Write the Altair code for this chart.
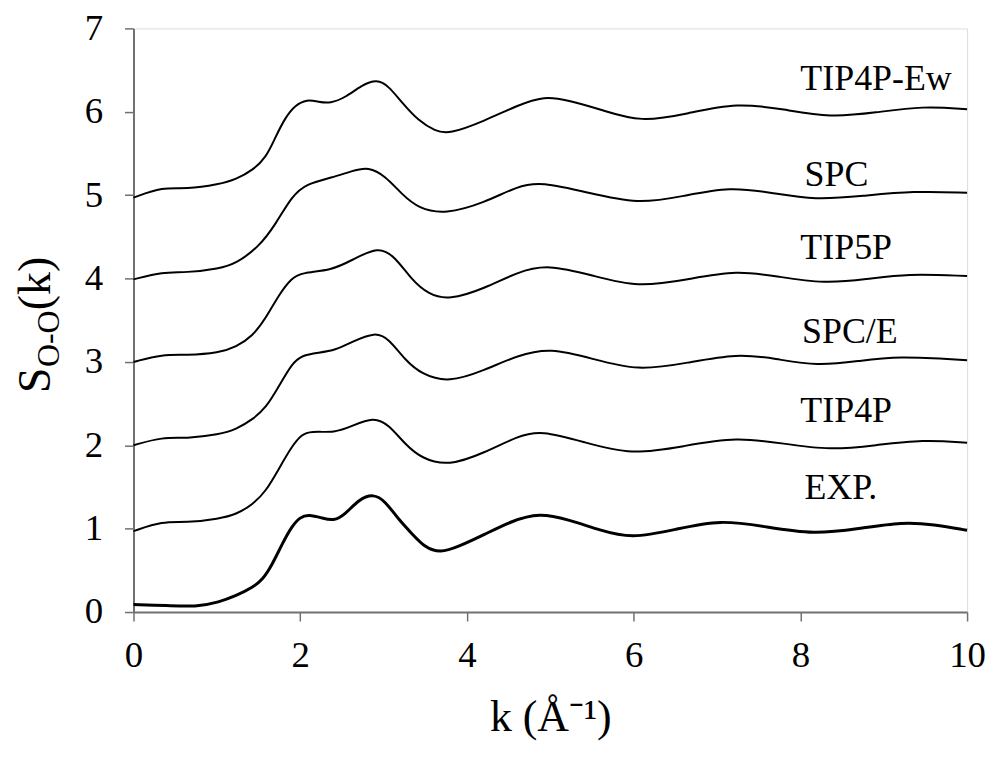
import altair as alt
import pandas as pd

# ---- data ----
exp_k = [0, 0.4, 0.75, 1.03, 1.23, 1.43, 1.55, 1.66, 1.78, 1.90, 2.0, 2.10, 2.26, 2.40, 2.54, 2.70, 2.88, 3.02, 3.18, 3.34, 3.50, 3.68, 3.89, 4.21, 4.53, 4.87, 5.21, 5.6, 5.97, 6.5, 7.04, 7.6, 8.16, 8.7, 9.23, 9.6, 10]
exp_s = [0.09, 0.08, 0.06, 0.12, 0.195, 0.295, 0.39, 0.56, 0.81, 1.03, 1.14, 1.17, 1.13, 1.09, 1.17, 1.35, 1.42, 1.33, 1.11, 0.94, 0.77, 0.71, 0.78, 0.93, 1.09, 1.19, 1.11, 0.98, 0.88, 0.99, 1.11, 1.02, 0.93, 1.00, 1.08, 1.05, 0.98]

tip4p_k = [0, 0.35, 0.63, 1.03, 1.23, 1.43, 1.59, 1.74, 1.90, 2.02, 2.12, 2.42, 2.62, 2.88, 3.06, 3.26, 3.46, 3.78, 4.21, 4.61, 4.89, 5.4, 5.97, 6.6, 7.24, 7.8, 8.36, 8.9, 9.47, 10]
tip4p_s = [0.97, 1.09, 1.07, 1.12, 1.17, 1.29, 1.45, 1.71, 1.99, 2.13, 2.17, 2.15, 2.23, 2.34, 2.25, 2.01, 1.84, 1.75, 1.91, 2.11, 2.18, 2.04, 1.88, 1.99, 2.10, 2.02, 1.94, 2.00, 2.07, 2.03]

spce_k = [0, 0.35, 0.63, 1.03, 1.23, 1.43, 1.59, 1.74, 1.90, 2.02, 2.22, 2.42, 2.62, 2.90, 3.06, 3.26, 3.46, 3.78, 4.21, 4.61, 5.0, 5.5, 6.05, 6.65, 7.24, 7.7, 8.2, 8.7, 9.15, 10]
spce_s = [2.0, 2.10, 2.08, 2.13, 2.19, 2.31, 2.45, 2.70, 2.98, 3.08, 3.11, 3.14, 3.24, 3.36, 3.28, 3.02, 2.85, 2.75, 2.90, 3.08, 3.17, 3.04, 2.89, 2.99, 3.10, 3.04, 2.95, 3.01, 3.07, 3.02]

tip5p_k = [0, 0.35, 0.63, 1.03, 1.23, 1.43, 1.585, 1.74, 1.90, 2.02, 2.38, 2.62, 2.94, 3.14, 3.34, 3.54, 3.78, 4.21, 4.61, 4.97, 5.5, 6.05, 6.65, 7.24, 7.75, 8.28, 8.8, 9.27, 10]
tip5p_s = [3.0, 3.09, 3.08, 3.11, 3.18, 3.31, 3.52, 3.80, 4.01, 4.07, 4.10, 4.22, 4.39, 4.26, 3.98, 3.81, 3.74, 3.88, 4.08, 4.17, 4.04, 3.89, 3.99, 4.10, 4.02, 3.94, 3.99, 4.06, 4.03]

spc_k = [0, 0.35, 0.63, 1.03, 1.23, 1.505, 1.705, 1.90, 2.08, 2.38, 2.62, 2.82, 3.02, 3.22, 3.42, 3.74, 4.21, 4.61, 4.89, 5.45, 6.05, 6.6, 7.16, 7.65, 8.18, 8.75, 9.35, 10]
spc_s = [3.99, 4.08, 4.07, 4.12, 4.18, 4.38, 4.65, 4.99, 5.14, 5.21, 5.29, 5.34, 5.23, 5.01, 4.84, 4.77, 4.91, 5.11, 5.16, 5.03, 4.89, 4.99, 5.10, 5.03, 4.94, 4.99, 5.05, 5.03]

tip4pew_k = [0, 0.35, 0.63, 1.03, 1.23, 1.43, 1.59, 1.70, 1.82, 1.94, 2.08, 2.22, 2.36, 2.54, 2.74, 2.92, 3.06, 3.22, 3.42, 3.62, 3.78, 4.21, 4.61, 4.93, 5.21, 5.6, 6.09, 6.65, 7.24, 7.8, 8.36, 8.9, 9.47, 10]
tip4pew_s = [4.97, 5.10, 5.07, 5.13, 5.19, 5.30, 5.45, 5.69, 5.93, 6.08, 6.15, 6.12, 6.10, 6.17, 6.32, 6.39, 6.31, 6.11, 5.89, 5.77, 5.73, 5.89, 6.08, 6.19, 6.14, 6.03, 5.87, 5.98, 6.11, 6.03, 5.93, 5.99, 6.07, 6.03]

label_names = ["TIP4P-Ew", "SPC", "TIP5P", "SPC/E", "TIP4P", "EXP."]
label_k = [8.0, 8.05, 8.0, 8.02, 8.0, 8.05]
label_s = [6.26, 5.11, 4.24, 3.23, 2.28, 1.35]

x_ticks = [0, 2, 4, 6, 8, 10]
y_ticks = [0, 1, 2, 3, 4, 5, 6, 7]

series = [
    ("EXP.", exp_k, exp_s, 3.0),
    ("TIP4P", tip4p_k, tip4p_s, 2.0),
    ("SPC/E", spce_k, spce_s, 2.0),
    ("TIP5P", tip5p_k, tip5p_s, 2.0),
    ("SPC", spc_k, spc_s, 2.0),
    ("TIP4P-Ew", tip4pew_k, tip4pew_s, 2.0),
]
rows = []
for name, ks, ss, w in series:
    for i, (k, s) in enumerate(zip(ks, ss)):
        rows.append({"model": name, "k": k, "S": s, "i": i, "w": w})
df = pd.DataFrame(rows)
labels = pd.DataFrame({"name": label_names, "k": label_k, "S": label_s})

SERIF = "Liberation Serif"
GRAY = "#707070"

xscale = alt.Scale(domain=[0, 10], nice=False, zero=False)
yscale = alt.Scale(domain=[0, 7], nice=False, zero=False)

lines = alt.Chart(df).mark_line(interpolate="basis", color="black").encode(
    x=alt.X("k:Q", scale=xscale,
            axis=alt.Axis(values=x_ticks, format="d", title="k (Å⁻¹)", grid=False,
                          labelFlush=False,
                          labelFont=SERIF, labelFontSize=37, labelColor="black",
                          labelPadding=17, tickSize=9, tickColor=GRAY, tickWidth=1.5,
                          domainColor=GRAY, domainWidth=2,
                          titleFont=SERIF, titleFontSize=44, titleFontWeight="normal",
                          titleColor="black", titlePadding=22)),
    y=alt.Y("S:Q", scale=yscale,
            axis=alt.Axis(values=y_ticks, format="d", title=None, grid=False,
                          labelFlush=False,
                          labelFont=SERIF, labelFontSize=37, labelColor="black",
                          labelPadding=22, tickSize=9, tickColor=GRAY, tickWidth=1.5,
                          domainColor=GRAY, domainWidth=2)),
    detail="model:N",
    order="i:Q",
    strokeWidth=alt.StrokeWidth("w:Q", scale=None, legend=None),
)

text = alt.Chart(labels).mark_text(font=SERIF, fontSize=36, align="left",
                                   baseline="alphabetic", color="black").encode(
    x=alt.X("k:Q", scale=xscale),
    y=alt.Y("S:Q", scale=yscale),
    text="name:N",
)

one = pd.DataFrame({"t": [0]})
yt_main = 46
yt_sub = 32
s_part = alt.Chart(one).mark_text(font=SERIF, fontSize=yt_main, angle=270, align="left",
                                  baseline="alphabetic", color="black").encode(
    x=alt.value(-84), y=alt.value(366), text=alt.value("S"))
sub_part = alt.Chart(one).mark_text(font=SERIF, fontSize=yt_sub, angle=270, align="left",
                                    baseline="alphabetic", color="black").encode(
    x=alt.value(-75), y=alt.value(340), text=alt.value("O-O"))
k_part = alt.Chart(one).mark_text(font=SERIF, fontSize=yt_main, angle=270, align="left",
                                  baseline="alphabetic", color="black").encode(
    x=alt.value(-84), y=alt.value(283), text=alt.value("(k)"))

chart = alt.layer(lines, text, s_part, sub_part, k_part).properties(
    width=837, height=586,
    autosize=alt.AutoSizeParams(type="none"),
    padding={"left": 126, "top": 19, "right": 20, "bottom": 130},
).configure_view(stroke=GRAY, strokeWidth=2).configure(background="white")

chart.save("out.html", embed_options={"renderer": "svg", "actions": False})
